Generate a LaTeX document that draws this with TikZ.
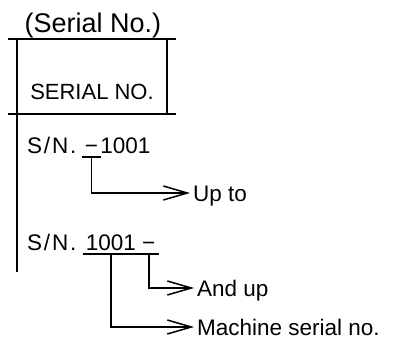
\documentclass[tikz,border=0pt]{standalone}
\usepackage{fontspec}
\setmainfont{Liberation Sans}
\usepackage{tikz}
\usetikzlibrary{positioning}
\usetikzlibrary{arrows.meta}

\begin{document}
\begin{tikzpicture}[
		x=1pt, y=1pt,
		rule/.style={line width=1.6pt},
		part/.style={font=\fontsize{22.5}{24}\selectfont, inner xsep=3pt, inner ysep=0pt, text height=16pt, text depth=4pt},
		snpart/.style={part, font=\fontsize{22.5}{24}\selectfont\addfontfeature{LetterSpace=8}},
		lbl/.style={font=\fontsize{22.5}{24}\selectfont, inner xsep=3pt, inner ysep=0pt, text height=16pt, text depth=0pt, anchor=west},
		underbar/.style={line width=1.8pt},
		arr/.style={line width=1.5pt, -{Straight Barb[length=24pt, width=14pt, line width=1.5pt]}}
		]
		\useasboundingbox (0,0) rectangle (398,-340);

		% heading and the nameplate box
		\node[font=\fontsize{27}{30}\selectfont, anchor=base] (title) at (93,-32) {(Serial No.)};
		\node[font=\fontsize{22}{24}\selectfont, anchor=base] (plate) at (92,-99) {SERIAL NO.};
		\draw[rule] (8,-39) -- (176,-39);
		\draw[rule] (8,-114) -- (176,-114);
		\draw[rule] (17,-39) -- (17,-114);
		\draw[rule] (167,-39) -- (167,-114);
		\draw[line width=1.2pt] (17,-114) -- (17,-272);

		% S/N. -1001
		\node[snpart, anchor=base west] (sn1) at (24,-153) {S/N.};
		\node[part, base right=2pt of sn1] (dash1) {−};
		\node[part, base right=-4pt of dash1] (num1) {1001};
		\node[lbl] (upto) at (190,-193) {Up to};
		\draw[underbar] (dash1.south west) -- (dash1.south east);
		\draw[arr] (dash1.south) |- (upto.west);

		% S/N. 1001-
		\node[snpart, anchor=base west] (sn2) at (24,-250) {S/N.};
		\node[part, base right=3pt of sn2] (num2) {1001};
		\node[part, base right=0pt of num2] (dash2) {−};
		\node[lbl] (andup) at (194,-288) {And up};
		\node[lbl] (machine) at (194,-327) {Machine serial no.};
		\draw[underbar] (num2.south west) -- (num2.south east);
		\draw[underbar] (dash2.south west) -- (dash2.south east);
		\draw[arr] (dash2.south) |- (andup.west);
		\draw[arr] (num2.south) |- (machine.west);
	\end{tikzpicture}
\end{document}
